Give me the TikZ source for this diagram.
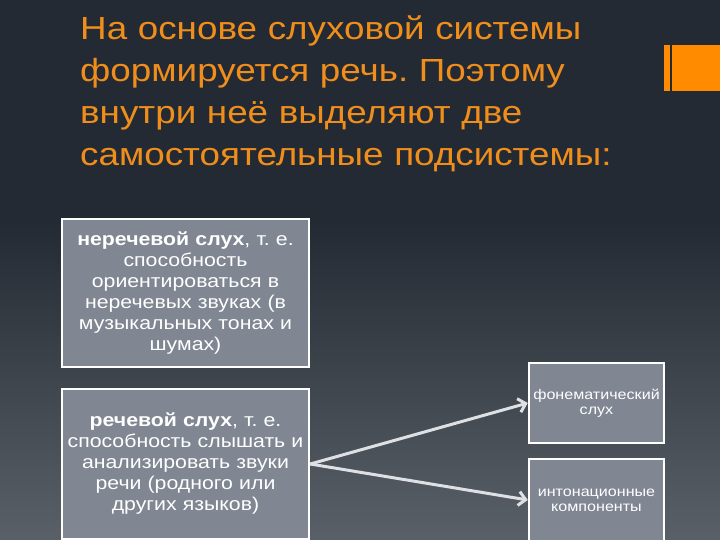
\documentclass[tikz,border=0pt]{standalone}
\usepackage{fontspec}
\setmainfont{Liberation Sans}
\newfontfamily\slidefont[FakeStretch=1.15]{Liberation Sans}
\usepackage{xcolor}
\usetikzlibrary{arrows.meta, positioning}
\frenchspacing

\definecolor{slidebg}{RGB}{35,42,51}
\definecolor{slidelow}{RGB}{90,96,103}
\definecolor{titleorange}{RGB}{240,142,28}
\definecolor{accent}{RGB}{255,140,0}
\definecolor{boxgray}{RGB}{128,134,146}
\definecolor{arrowgray}{RGB}{222,224,228}

\tikzset{
  hearbox/.style={draw=white, line width=2.5pt, fill=boxgray, text=white, align=center, inner sep=2pt},
  bigbox/.style={hearbox, minimum width=247pt, text width=243pt, font=\slidefont\fontsize{18.5}{21}\selectfont},
  smallbox/.style={hearbox, minimum width=135pt, text width=131pt, font=\slidefont\fontsize{14}{15}\selectfont},
  link/.style={arrowgray, line width=3pt, -{Straight Barb[length=7pt,width=14pt]}}
}

\begin{document}
\begin{tikzpicture}[x=1pt, y=-1pt]
      % Slide area and background
      \useasboundingbox (0,0) rectangle (720,540);
      \clip (0,0) rectangle (720,540);
      \fill[slidebg] (0,0) rectangle (720,540);
      \shade[top color=slidebg, bottom color=slidelow] (0,220) rectangle (720,540);

      % Orange mark at the right
      \fill[accent] (664,45) rectangle (670,91);
      \fill[accent] (672,45) rectangle (720,91);

      % Title
      \node[anchor=north west, text=titleorange, text width=630pt, align=left,
            font=\slidefont\fontsize{32}{42}\selectfont, inner sep=0pt] (title) at (80,16)
        {На основе слуховой системы\\ формируется речь. Поэтому\\ внутри неё выделяют две\\ самостоятельные подсистемы:};

      % Two subsystems
      \node[bigbox, minimum height=148pt] (nonspeech) at (185.5,293)
        {\textbf{неречевой слух}, т. е.\\ способность\\ ориентироваться в\\ неречевых звуках (в\\ музыкальных тонах и\\ шумах)};
      \node[bigbox, minimum height=150pt] (speech) at (185.5,464)
        {\textbf{речевой слух}, т. е.\\ способность слышать и\\ анализировать звуки\\ речи (родного или\\ других языков)};

      % Parts of speech hearing
      \node[smallbox, minimum height=80pt] (phonem) at (596.5,403) {фонематический\\ слух};
      \node[smallbox, minimum height=82pt] (inton) at (596.5,500) {интонационные\\ компоненты};

      % Arrows
      \draw[link] (speech.east) -- (phonem.west);
      \draw[link] (speech.east) -- (inton.west);

    \end{tikzpicture}
\end{document}
